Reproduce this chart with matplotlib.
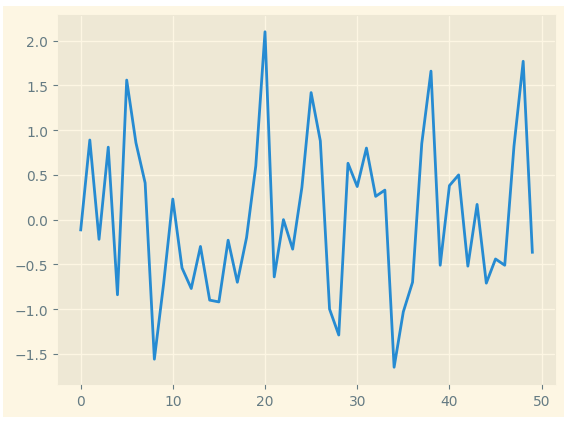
import numpy as np
import matplotlib.pyplot as plt
from matplotlib.patches import Rectangle

plt.style.use('Solarize_Light2')

# values
x = np.arange(50)
y = [-0.13, 0.89, -0.22, 0.81, -0.84, 1.56, 0.86, 0.41, -1.56, -0.72,
     0.23, -0.54, -0.77, -0.30, -0.90, -0.92, -0.23, -0.70, -0.20, 0.60,
     2.10, -0.64, 0.00, -0.33, 0.36, 1.42, 0.88, -1.00, -1.29, 0.63,
     0.37, 0.80, 0.26, 0.33, -1.65, -1.03, -0.70, 0.85, 1.66, -0.51,
     0.38, 0.50, -0.52, 0.17, -0.71, -0.44, -0.51, 0.82, 1.77, -0.38]

fig = plt.figure(figsize=(5.68, 4.27), dpi=100, facecolor='white')
# cream figure area with a thin white margin around it
fig.patches.append(Rectangle((3 / 568, 1 - 418 / 427), 561 / 568, 411 / 427,
                             transform=fig.transFigure, facecolor='#FDF6E3',
                             edgecolor='none', zorder=-1))

ax = fig.add_axes([58 / 568, 1 - 385 / 427, 497 / 568, 369 / 427])
ax.plot(x, y)

plt.savefig('out.png', dpi=100, facecolor='white')
